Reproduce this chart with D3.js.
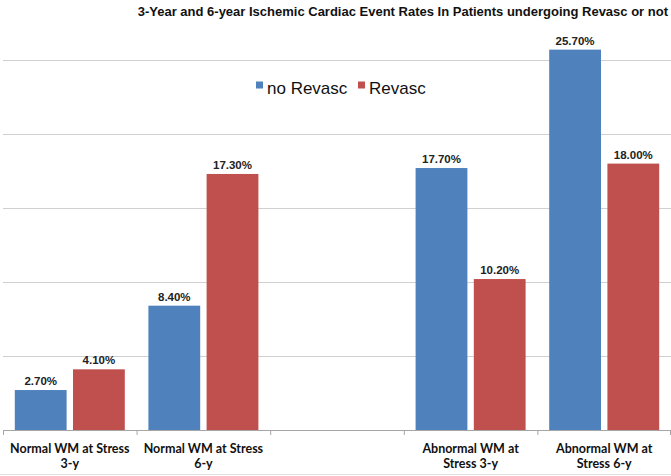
<!DOCTYPE html>
<html>
<head>
<meta charset="utf-8">
<script src="https://cdn.jsdelivr.net/npm/d3@7"></script>
<style>
  html, body { margin: 0; padding: 0; background: #fff; }
  svg { display: block; }
</style>
</head>
<body>
<svg id="chart" width="671" height="476"></svg>
<script>
const title = "3-Year and 6-year Ischemic Cardiac Event Rates In Patients undergoing Revasc or not";
const categories = ["Normal WM at Stress 3-y", "Normal WM at Stress 6-y", "", "Abnormal WM at Stress 3-y", "Abnormal WM at Stress 6-y"];
const categoryLines = [["Normal WM at Stress", "3-y"], ["Normal WM at Stress", "6-y"], [], ["Abnormal WM at", "Stress 3-y"], ["Abnormal WM at", "Stress 6-y"]];
const seriesNames = ["no Revasc", "Revasc"];
const noRevasc = [2.7, 8.4, null, 17.7, 25.7];
const revasc = [4.1, 17.3, null, 10.2, 18.0];
const gridTicks = [5, 10, 15, 20, 25];
const colors = ["#4F81BD", "#C0504D"];

const svg = d3.select("#chart");
const W = 671, H = 476;
const baseY = 430;

const x = d3.scaleBand().domain(categories.map((d, i) => i)).range([3, 671]).padding(0);
const bw = x.bandwidth();
const xs = d3.scaleBand().domain([0, 1]).range([11.8, bw - 11.8]).paddingInner(0.11);
const y = d3.scaleLinear().domain([0, 25]).range([baseY, baseY - 25 * 14.8]);

// gridlines
svg.append("g").selectAll("line").data(gridTicks).join("line")
  .attr("x1", 3).attr("x2", W)
  .attr("y1", d => Math.round(y(d)) + 0.5).attr("y2", d => Math.round(y(d)) + 0.5)
  .attr("stroke", "#d0d0d0").attr("stroke-width", 1.2);

// bars
const series = [noRevasc, revasc];
const g = svg.append("g");
series.forEach((vals, si) => {
  const data = vals.map((v, i) => ({ v, i })).filter(d => d.v != null);
  g.selectAll(null).data(data).join("rect")
    .attr("x", d => x(d.i) + xs(si))
    .attr("width", xs.bandwidth())
    .attr("y", d => y(d.v))
    .attr("height", d => baseY - y(d.v))
    .attr("fill", colors[si]);
  g.selectAll(null).data(data).join("text")
    .attr("x", d => x(d.i) + xs(si) + xs.bandwidth() / 2)
    .attr("y", d => y(d.v) - 5)
    .attr("text-anchor", "middle")
    .attr("font-family", "Liberation Sans, Arial, sans-serif")
    .attr("font-weight", "bold")
    .attr("font-size", 11.5)
    .attr("fill", "#222")
    .text(d => d.v.toFixed(2) + "%");
});

// x axis
svg.append("line").attr("x1", 3).attr("x2", W).attr("y1", baseY + 0.5).attr("y2", baseY + 0.5)
  .attr("stroke", "#a6a6a6").attr("stroke-width", 1);
const bounds = categories.map((d, i) => x(i)).concat([x(categories.length - 1) + bw]);
svg.append("g").selectAll("line").data(bounds).join("line")
  .attr("x1", d => Math.min(d, W - 1) + 0.5).attr("x2", d => Math.min(d, W - 1) + 0.5)
  .attr("y1", baseY).attr("y2", baseY + 5)
  .attr("stroke", "#a6a6a6");

// category labels
categoryLines.forEach((lines, i) => {
  lines.forEach((ln, li) => {
    svg.append("text")
      .attr("x", x(i) + bw / 2)
      .attr("y", 452.5 + li * 15.5)
      .attr("text-anchor", "middle")
      .attr("font-family", "Lato, 'Open Sans', sans-serif")
      .attr("font-weight", "bold")
      .attr("font-size", 12.5)
      .attr("fill", "#111")
      .text(ln);
  });
});

// bottom border line
svg.append("line").attr("x1", 0).attr("x2", W).attr("y1", 474.5).attr("y2", 474.5)
  .attr("stroke", "#e2e2e2");

// title
svg.append("text")
  .attr("x", 668).attr("y", 16)
  .attr("text-anchor", "end")
  .attr("font-family", "Liberation Sans, Arial, sans-serif")
  .attr("font-weight", "bold")
  .attr("font-size", 13)
  .attr("fill", "#111")
  .text(title);

// legend
const legendX = [256, 358];
seriesNames.forEach((name, i) => {
  svg.append("rect").attr("x", legendX[i]).attr("y", 81.5).attr("width", 7).attr("height", 7).attr("fill", colors[i]);
  svg.append("text").attr("x", legendX[i] + 11).attr("y", 94)
    .attr("font-family", "Liberation Sans, Arial, sans-serif")
    .attr("font-size", 17)
    .attr("fill", "#111")
    .text(name);
});
</script>
</body>
</html>
